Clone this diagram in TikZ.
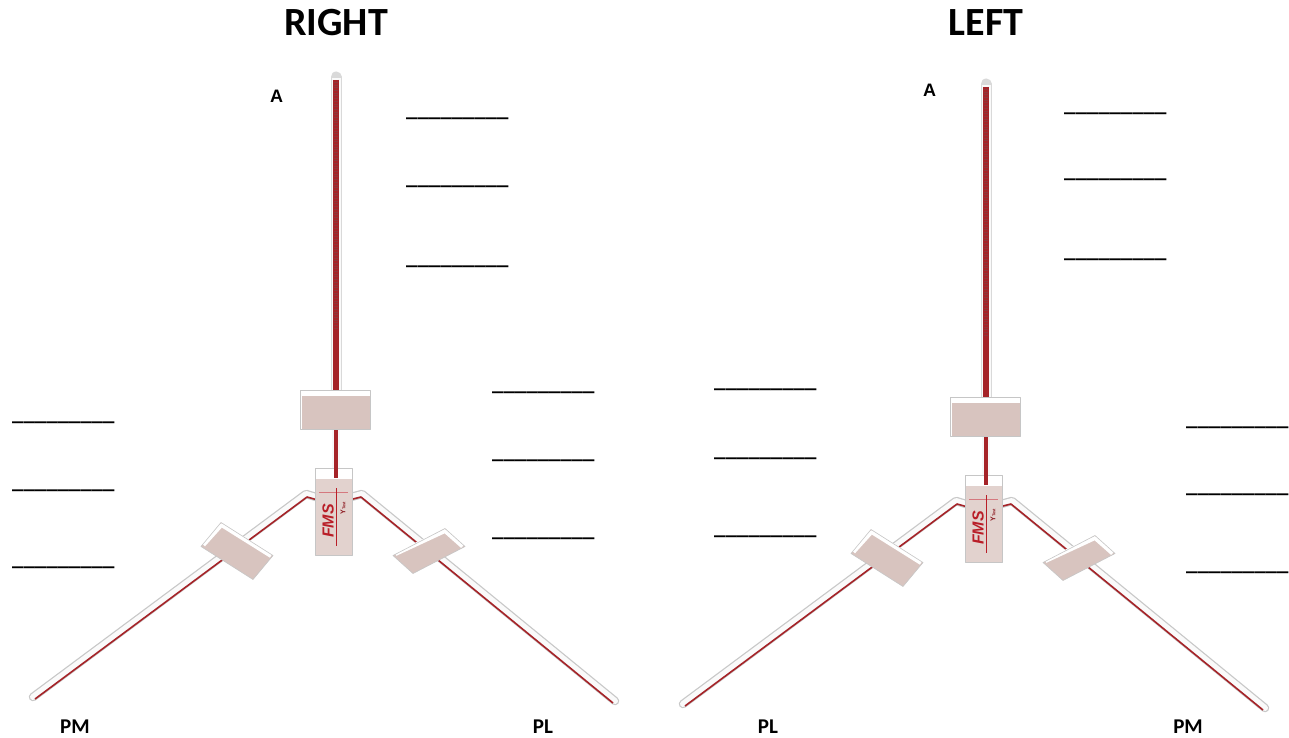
\documentclass[tikz,border=0pt]{standalone}
\usepackage{fontspec}
\newfontfamily\calib{Carlito}
\newfontfamily\arialf{Liberation Sans}
\definecolor{polered}{RGB}{165,35,40}
\definecolor{darkred}{RGB}{120,20,25}
\definecolor{blockpink}{RGB}{216,196,191}
\definecolor{hubpink}{RGB}{226,210,206}
\definecolor{tubegray}{RGB}{200,200,200}
\definecolor{fmsred}{RGB}{185,30,40}
\tikzset{
  titletext/.style={font=\calib\bfseries\fontsize{40}{40}\selectfont, anchor=base, inner sep=0},
  ptlabel/.style={font=\arialf\bfseries\fontsize{18}{18}\selectfont, anchor=base west, inner sep=0},
  footlabel/.style={font=\calib\bfseries\fontsize{21}{21}\selectfont, anchor=base, inner sep=0},
  blank/.style={font=\calib\bfseries\fontsize{22.8}{22.8}\selectfont, anchor=base west, inner sep=0},
  tubeout/.style={line width=8.5, tubegray, line join=round, line cap=round},
  tubein/.style={line width=6, white!96!gray, line join=round, line cap=round},
  tubered/.style={line width=1.6, polered, line join=round},
  blockedge/.style={gray!45, line width=0.6, line join=round},
  ydevice/.pic={
    % arms
    \draw[tubeout] (316,497) -- (306,494) -- (33,697);
    \draw[tubein] (316,497) -- (306,494) -- (33,697);
    \draw[tubered] (316,499.5) -- (307,497) -- (35,699);
    \draw[tubeout] (351,497) -- (362,494) -- (615,701);
    \draw[tubein] (351,497) -- (362,494) -- (615,701);
    \draw[tubered] (351,499.5) -- (361,497) -- (613,703);
    % upper pole
    \draw[line width=11, gray!30, line cap=round] (336,77) -- (336,392);
    \draw[line width=9, white!95!gray] (336,78) -- (336,392);
    \draw[line width=5.5, polered] (336,80) -- (336,392);
    \draw[line width=4, darkred!85, dash pattern=on 0.5 off 2.2] (336,82) -- (336,330);
    % lower pole
    \draw[line width=7.5, white!94!gray] (336,428) -- (336,472);
    \draw[line width=4, polered] (336,428) -- (336,478);
    % upper sliding block
    \fill[blockpink] (300,390) rectangle (370,429);
    \fill[white] (300,390) rectangle (370,396);
    \fill[white] (300,390) rectangle (302,429);
    \draw[blockedge] (300,390) rectangle (370,429);
    % left arm block
    \fill[blockpink] (201,546.5) -- (221,522.5) -- (273,555.5) -- (253,579.5) -- cycle;
    \draw[white, line width=4, line join=round] (203.5,545) -- (221.5,525) -- (271,556);
    \draw[blockedge] (201,546.5) -- (221,522.5) -- (273,555.5) -- (253,579.5) -- cycle;
    % right arm block
    \fill[blockpink] (393,555.5) -- (445,528.5) -- (465,546.5) -- (413,573.5) -- cycle;
    \draw[white, line width=4, line join=round] (395.5,554) -- (445,531) -- (462.5,546.5);
    \draw[blockedge] (393,555.5) -- (445,528.5) -- (465,546.5) -- (413,573.5) -- cycle;
    % hub
    \fill[hubpink] (315,468) rectangle (352,555);
    \fill[white] (315,468) rectangle (352,479);
    \draw[blockedge] (315,468) rectangle (352,555);
    \draw[line width=4, polered] (336,466) -- (336,478);
    \draw[fmsred!60, line width=0.5] (319,492) -- (348,492);
    \node[rotate=90, text=fmsred, font=\arialf\bfseries\itshape\fontsize{16}{16}\selectfont, inner sep=0] (fms) at (328,521) {FMS};
    \draw[fmsred, line width=0.9] (336.5,488) -- (336.5,546);
    \node[rotate=90, text=fmsred!75!black, font=\arialf\bfseries\fontsize{7}{7}\selectfont, inner sep=0] (ytest) at (343,508) {Y{\fontsize{4}{4}\selectfont Test}};
  }
}
\begin{document}
\begin{tikzpicture}[x=1pt,y=-1pt]
\useasboundingbox (0,0) rectangle (1289,738);
\fill[white] (0,0) rectangle (1289,738);

\pic (ry) at (0,0) {ydevice};
\pic (ly) at (650,7) {ydevice};

% titles
\node[titletext] (tright) at (336,36) {RIGHT};
\node[titletext] (tleft) at (986,36) {LEFT};

% A labels
\node[ptlabel] (aright) at (270,103) {A};
\node[ptlabel] (aleft) at (923,97) {A};

% foot labels
\node[footlabel] (pmr) at (75,733) {PM};
\node[footlabel] (plr) at (543,733) {PL};
\node[footlabel] (pll) at (768,733) {PL};
\node[footlabel] (pml) at (1188,733) {PM};

% blanks, right device
\node[blank] (b1) at (406,117) {\_\_\_\_\_\_\_\_\_};
\node[blank] (b2) at (406,184) {\_\_\_\_\_\_\_\_\_};
\node[blank] (b3) at (406,264) {\_\_\_\_\_\_\_\_\_};
\node[blank] (b4) at (492,390) {\_\_\_\_\_\_\_\_\_};
\node[blank] (b5) at (492,458) {\_\_\_\_\_\_\_\_\_};
\node[blank] (b6) at (492,536) {\_\_\_\_\_\_\_\_\_};
\node[blank] (b7) at (12,420) {\_\_\_\_\_\_\_\_\_};
\node[blank] (b8) at (12,488) {\_\_\_\_\_\_\_\_\_};
\node[blank] (b9) at (12,565) {\_\_\_\_\_\_\_\_\_};
% blanks, left device
\node[blank] (c1) at (1064,112) {\_\_\_\_\_\_\_\_\_};
\node[blank] (c2) at (1064,178) {\_\_\_\_\_\_\_\_\_};
\node[blank] (c3) at (1064,257) {\_\_\_\_\_\_\_\_\_};
\node[blank] (c4) at (714,387) {\_\_\_\_\_\_\_\_\_};
\node[blank] (c5) at (714,456) {\_\_\_\_\_\_\_\_\_};
\node[blank] (c6) at (714,534) {\_\_\_\_\_\_\_\_\_};
\node[blank] (c7) at (1186,425) {\_\_\_\_\_\_\_\_\_};
\node[blank] (c8) at (1186,492) {\_\_\_\_\_\_\_\_\_};
\node[blank] (c9) at (1186,570) {\_\_\_\_\_\_\_\_\_};
\end{tikzpicture}
\end{document}
